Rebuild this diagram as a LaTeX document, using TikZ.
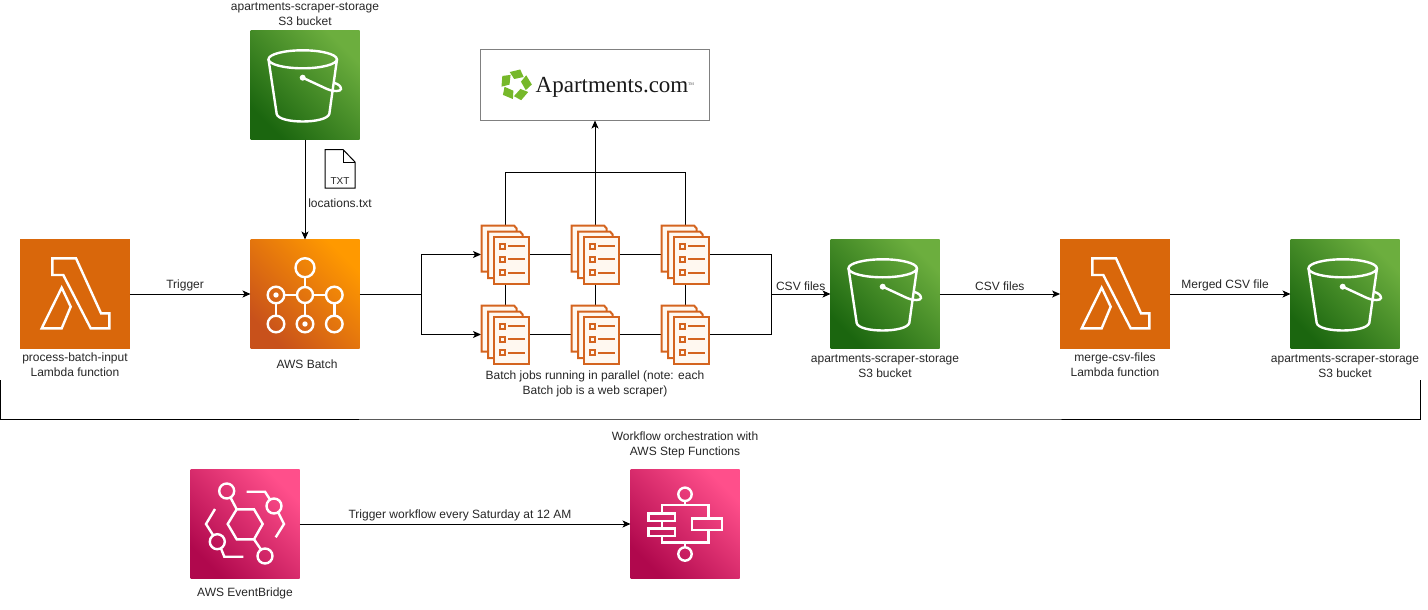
\documentclass[tikz,border=0pt]{standalone}
\usepackage{xcolor}
\usepackage{fontspec}
\setmainfont{Liberation Sans}
\newfontfamily\logofont{Liberation Serif}
\usepackage{tikz}
\usetikzlibrary{arrows.meta}

\definecolor{lambdaorange}{HTML}{D9670B}
\definecolor{batchdark}{HTML}{C8511B}
\definecolor{batchlight}{HTML}{FF9900}
\definecolor{bucketdark}{HTML}{1B660F}
\definecolor{bucketlight}{HTML}{6CAE3E}
\definecolor{pinkdark}{HTML}{B0084D}
\definecolor{pinklight}{HTML}{FF4F8B}
\definecolor{jobline}{HTML}{D4641F}
\definecolor{jobfill}{HTML}{FFF8F0}
\definecolor{logogreen}{HTML}{76B82A}

\tikzset{
    iconbox/.style={minimum size=109pt, inner sep=0, outer sep=0},
    lambdabox/.style={iconbox, minimum size=109.8pt, fill=lambdaorange},
    batchbox/.style={iconbox, shade, bottom color=batchdark, top color=batchlight, shading angle=-45},
    bucketbox/.style={iconbox, shade, bottom color=bucketdark, top color=bucketlight, shading angle=-45},
    pinkbox/.style={iconbox, shade, bottom color=pinkdark, top color=pinklight, shading angle=-45},
    jobnode/.style={minimum width=48pt, minimum height=59pt, inner sep=0, outer sep=0},
    lbl/.style={font=\fontsize{12}{15}\selectfont, align=center, inner sep=0, text=black!85},
    conn/.style={line width=1pt},
    iconline/.style={draw=white, line width=2.4pt, line join=miter},
    jobstroke/.style={draw=jobline, line width=2pt},
    pics/lambdaicon/.style={code={
        \draw[iconline] (-22.7,-35.7) -- (1,-35.7) -- (26,19.3) -- (34.3,19.3) -- (34.3,34.3)
            -- (15.7,34.3) -- (-11.7,-19) -- (-22.7,-19) -- cycle;
        \draw[iconline] (-13.3,-6.3) -- (-4.3,12.7) -- (-13.3,34.3) -- (-33.3,34.3) -- cycle;
    }},
    pics/bucketicon/.style={code={
        \draw[iconline] (-2.3,-25.7) ellipse (34.2 and 9);
        \draw[iconline] (-36.5,-25.7) -- (-28.3,29) .. controls (-26,39) and (21,39) .. (24.3,29) -- (32,-25.7);
        \fill[white] (-2.3,-7.3) circle (3);
        \draw[iconline] (-2.3,-7.3) -- (22,4) .. controls (28,7) and (36,6.5) .. (36,4)
            .. controls (36,1) and (33,-1) .. (29.5,-2);
    }},
    pics/batchicon/.style={code={
        \draw[iconline] (0,-26.3) circle (9.5);
        \draw[iconline] (0,1) circle (8);
        \draw[iconline] (-29,1) circle (8.3);
        \draw[iconline] (29.3,1) circle (8.3);
        \draw[iconline] (-29,30) circle (8.3);
        \draw[iconline] (0,30) circle (8.3);
        \draw[iconline] (29.3,30) circle (8.3);
        \fill[white] (-29,1) circle (2.7);
        \fill[white] (0,30) circle (2.7);
        \draw[iconline] (0,-16.8) -- (0,-7);
        \draw[iconline] (0,9) -- (0,21.7);
        \draw[iconline] (-20.7,1) -- (-8,1);
        \draw[iconline] (8,1) -- (21,1);
        \draw[iconline] (-29,9.3) -- (-29,21.7);
        \draw[iconline] (29.3,9.3) -- (29.3,21.7);
    }},
    pics/bridgeicon/.style={code={
        \draw[iconline] (-17.3,0) -- (-8.3,-14.7) -- (9,-14.7) -- (17.7,0) -- (9,15.3) -- (-8.3,15.3) -- cycle;
        \draw[iconline] (-18.3,-33) circle (7.5);
        \draw[iconline] (29,-18) circle (7.5);
        \draw[iconline] (-27.7,17.7) circle (7.5);
        \draw[iconline] (20,32) circle (7.5);
        \draw[iconline] (-14.5,-26.5) -- (-8.3,-14.7);
        \draw[iconline] (9,15.3) -- (16,25.5);
        \draw[iconline] (1.7,-32.3) -- (20,-32.3) -- (25,-24.5);
        \draw[iconline] (33,-12) -- (39,0) -- (30.7,13.3);
        \draw[iconline] (-30,-15) -- (-39,0) -- (-32,11);
        \draw[iconline] (-24,24.5) -- (-20.7,32.7) -- (-1.7,32.7);
    }},
    pics/stepicon/.style={code={
        \draw[iconline] (0,-29.7) circle (6.7);
        \draw[iconline] (0,30) circle (6.7);
        \draw[iconline] (0,-23) -- (0,-19);
        \draw[iconline] (0,18.3) -- (0,23.3);
        \draw[iconline] (-23.3,-10.7) -- (-23.3,-19) -- (23.3,-19) -- (23.3,-5.7);
        \draw[iconline] (-23.3,11.7) -- (-23.3,18.3) -- (23.3,18.3) -- (23.3,6);
        \draw[iconline] (-23.3,-3) -- (-23.3,4.3);
        \draw[iconline] (-36.7,-10.7) rectangle (-10,-3);
        \draw[iconline] (-36.7,4.3) rectangle (-10,11.7);
        \draw[iconline] (6.7,-5.7) rectangle (36.7,6);
    }},
    pics/jobicon/.style={code={
        \draw[jobstroke, fill=jobfill] (-23.3,-29) -- (9,-29) -- (11.7,-26) -- (11.7,17) -- (-23.3,17) -- cycle;
        \draw[jobstroke, fill=jobfill] (-17,-23) -- (15,-23) -- (17.7,-20) -- (17.7,23.5) -- (-17,23.5) -- cycle;
        \draw[jobstroke, fill=jobfill] (-10.7,-17.3) -- (24,-17.3) -- (24,29.3) -- (-10.7,29.3) -- cycle;
        \draw[jobstroke] (-5.5,-11) rectangle (-0.5,-6);
        \draw[jobstroke] (-5.5,2) rectangle (-0.5,7);
        \draw[jobstroke] (-5.5,15.5) rectangle (-0.5,20.5);
        \draw[jobstroke] (3,-8.5) -- (20,-8.5);
        \draw[jobstroke] (3,4.5) -- (20,4.5);
        \draw[jobstroke] (3,18) -- (20,18);
    }},
    pics/logopiece/.style={code={
        \fill[logogreen] (-6,-13) -- (4.5,-15.5) -- (8,-8) -- (-1.5,-6) -- cycle;
    }},
}

\begin{document}
\begin{tikzpicture}[>={Stealth[length=8pt,width=7pt,inset=2pt]},x=1pt,y=-1pt]

\useasboundingbox (0,0) rectangle (1428,610);

% --------------------------------------------------
% Top: input bucket and website
% --------------------------------------------------
\node[bucketbox] (bucketTop) at (305,85) {};
\pic at (bucketTop) {bucketicon};
\node[lbl] (bucketTopText) at (305,14.5) {apartments-scraper-storage\\S3 bucket};

\draw[line width=1pt, fill=white] (325,149.5) -- (343,149.5) -- (355,162) -- (355,188) -- (325,188) -- cycle;
\draw[line width=1pt] (343,149.5) -- (343,162) -- (355,162);
\node[lbl, font=\fontsize{10}{10}\selectfont] (fileType) at (340,181) {TXT};
\node[lbl] (fileText) at (340,203) {locations.txt};

\node[draw=black!50, line width=1pt, minimum width=229pt, minimum height=71pt, inner sep=0, outer sep=0]
    (website) at (595,85) {};
\pic at (515.7,85) {logopiece};
\pic[rotate=72] at (515.7,85) {logopiece};
\pic[rotate=144] at (515.7,85) {logopiece};
\pic[rotate=216] at (515.7,85) {logopiece};
\pic[rotate=288] at (515.7,85) {logopiece};
\node[inner sep=0, anchor=west, text=black!90, font=\logofont\fontsize{23}{23}\selectfont]
    (websiteName) at (535.5,87) {Apartments.com};
\node[inner sep=0, text=black!70, font=\logofont\fontsize{4}{4}\selectfont]
    (websiteMark) at (691,84.5) {TM};

% --------------------------------------------------
% Main row: trigger and batch
% --------------------------------------------------
\node[lambdabox] (lambdaInput) at (75,294) {};
\pic at (lambdaInput) {lambdaicon};
\node[lbl] (lambdaInputText) at (75,364.5) {process-batch-input\\Lambda function};

\node[batchbox] (batchMain) at (305,294) {};
\pic at (batchMain) {batchicon};
\node[lbl] (batchMainText) at (307,364) {AWS Batch};

\draw[conn,->] (lambdaInput) -- node[lbl, above=3pt, pos=.458] (triggerText) {Trigger} (batchMain);
\draw[conn,->] (bucketTop) -- (batchMain);

% --------------------------------------------------
% Middle: batch jobs
% --------------------------------------------------
\node[jobnode] (jobA1) at (505,254.5) {};
\node[jobnode] (jobA2) at (595,254.5) {};
\node[jobnode] (jobA3) at (685,254.5) {};
\node[jobnode] (jobB1) at (505,334.5) {};
\node[jobnode] (jobB2) at (595,334.5) {};
\node[jobnode] (jobB3) at (685,334.5) {};

\coordinate (splitLeft) at (421,294);
\coordinate (splitRight) at (771,294);
\coordinate (joinTop) at (595,172);

\draw[conn] (batchMain) -- (splitLeft);
\draw[conn,->] (splitLeft) |- (jobA1);
\draw[conn,->] (splitLeft) |- (jobB1);

\draw[conn] (jobA1) -- (jobA2);
\draw[conn] (jobA2) -- (jobA3);
\draw[conn] (jobB1) -- (jobB2);
\draw[conn] (jobB2) -- (jobB3);
\draw[conn] (jobA1) -- (jobB1);
\draw[conn] (jobA2) -- (jobB2);
\draw[conn] (jobA3) -- (jobB3);
\draw[conn] (jobA3) -| (splitRight);
\draw[conn] (jobB3) -| (splitRight);

\draw[conn] (jobA1) |- (joinTop);
\draw[conn] (jobA3) |- (joinTop);
\draw[conn] (jobA2) -- (joinTop);
\draw[conn,->] (joinTop) -- (website);

\pic at (jobA1) {jobicon};
\pic at (jobA2) {jobicon};
\pic at (jobA3) {jobicon};
\pic at (jobB1) {jobicon};
\pic at (jobB2) {jobicon};
\pic at (jobB3) {jobicon};

\node[lbl] (jobsText) at (595,383.5) {Batch jobs running in parallel (note: each\\Batch job is a web scraper)};

% --------------------------------------------------
% Main row: merge and output
% --------------------------------------------------
\node[bucketbox] (bucketMid) at (885,294) {};
\pic at (bucketMid) {bucketicon};
\node[lbl] (bucketMidText) at (885,366.5) {apartments-scraper-storage\\S3 bucket};

\node[lambdabox] (lambdaMerge) at (1115,294) {};
\pic at (lambdaMerge) {lambdaicon};
\node[lbl] (lambdaMergeText) at (1115,364.5) {merge-csv-files\\Lambda function};

\node[bucketbox] (bucketEnd) at (1345,294) {};
\pic at (bucketEnd) {bucketicon};
\node[lbl] (bucketEndText) at (1345,366.5) {apartments-scraper-storage\\S3 bucket};

\draw[conn,->] (splitRight) -- node[lbl, above=3pt] (csvTextA) {CSV files} (bucketMid);
\draw[conn,->] (bucketMid) -- node[lbl, above=3pt] (csvTextB) {CSV files} (lambdaMerge);
\draw[conn,->] (lambdaMerge) -- node[lbl, above=3pt, pos=.458] (mergedText) {Merged CSV file} (bucketEnd);

% --------------------------------------------------
% Bracket around the workflow
% --------------------------------------------------
\coordinate (bracketLeft) at (0.5,380);
\coordinate (bracketRight) at (1420,380);
\draw[conn] (bracketLeft) |- (710,419) -| (bracketRight);

% --------------------------------------------------
% Bottom: schedule
% --------------------------------------------------
\node[pinkbox] (eventBridge) at (245,524) {};
\pic at (eventBridge) {bridgeicon};
\node[lbl] (eventBridgeText) at (245,593) {AWS EventBridge};

\node[pinkbox] (stepFunctions) at (685,524) {};
\pic at (stepFunctions) {stepicon};
\node[lbl] (stepFunctionsText) at (685,444.5) {Workflow orchestration with\\AWS Step Functions};

\draw[conn,->] (eventBridge) -- node[lbl, above=3pt, pos=.485] (scheduleText) {Trigger workflow every Saturday at 12 AM} (stepFunctions);

\end{tikzpicture}
\end{document}
